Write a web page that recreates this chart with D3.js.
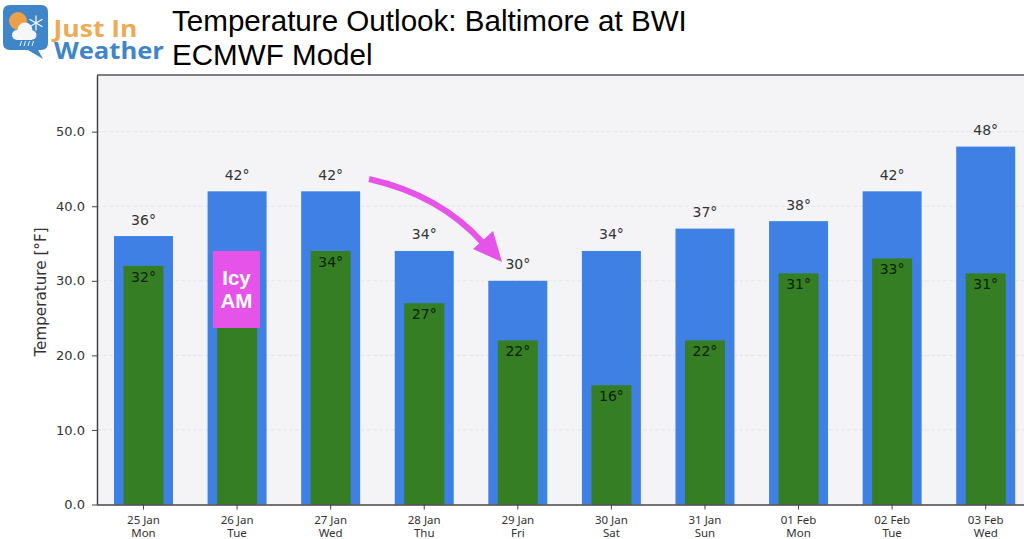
<!DOCTYPE html>
<html>
<head>
<meta charset="utf-8">
<script src="https://cdn.jsdelivr.net/npm/d3@7"></script>
<style>
    html, body { margin: 0; padding: 0; background: #fff; overflow: hidden; }
    text { font-family: "DejaVu Sans", sans-serif; }
</style>
</head>
<body>
<svg id="chart" width="1024" height="539"></svg>
<script>
var dates = ["25 Jan", "26 Jan", "27 Jan", "28 Jan", "29 Jan", "30 Jan", "31 Jan", "01 Feb", "02 Feb", "03 Feb"];
var days = ["Mon", "Tue", "Wed", "Thu", "Fri", "Sat", "Sun", "Mon", "Tue", "Wed"];
var highs = [36, 42, 42, 34, 30, 34, 37, 38, 42, 48];
var lows = [32, 24, 34, 27, 22, 16, 22, 31, 33, 31];
var lowLabels = ["32°", "", "34°", "27°", "22°", "16°", "22°", "31°", "33°", "31°"];
var yTicks = [0, 10, 20, 30, 40, 50];
var titleLines = ["Temperature Outlook: Baltimore at BWI", "ECMWF Model"];

var svg = d3.select("#chart");

var left = 97, right = 1033, top_ = 75, bottom = 504.5;

// one category is 93.58px wide, first bar is centred on 143.5
var x = d3.scaleBand()
    .domain(d3.range(dates.length))
    .range([96.7, 96.7 + 93.58 * dates.length])
    .padding(0);

var y = d3.scaleLinear()
    .domain([0, 57.6])
    .range([bottom, top_]);

var blue_w = 59, green_w = 40;

// plot background
svg.append("rect")
    .attr("x", left).attr("y", top_)
    .attr("width", right - left).attr("height", bottom - top_)
    .attr("fill", "#f4f4f6");

// grid
svg.selectAll(".grid")
    .data(yTicks.slice(1))
    .enter().append("line")
    .attr("x1", left).attr("x2", right)
    .attr("y1", function(d) { return y(d); })
    .attr("y2", function(d) { return y(d); })
    .attr("stroke", "#e6e6e8")
    .attr("stroke-width", 1)
    .attr("stroke-dasharray", "4,2");

function cx(i) { return x(i) + x.bandwidth() / 2; }

svg.selectAll(".high")
    .data(highs)
    .enter().append("rect")
    .attr("x", function(d, i) { return cx(i) - blue_w / 2; })
    .attr("y", function(d) { return y(d); })
    .attr("width", blue_w)
    .attr("height", function(d) { return bottom - y(d); })
    .attr("fill", "#3f80e4");

svg.selectAll(".low")
    .data(lows)
    .enter().append("rect")
    .attr("x", function(d, i) { return cx(i) - green_w / 2; })
    .attr("y", function(d) { return y(d); })
    .attr("width", green_w)
    .attr("height", function(d) { return bottom - y(d); })
    .attr("fill", "#367e24");

svg.selectAll(".high-label")
    .data(highs)
    .enter().append("text")
    .attr("x", function(d, i) { return cx(i); })
    .attr("y", function(d) { return y(d) - 11.5; })
    .attr("text-anchor", "middle")
    .attr("font-size", 14)
    .attr("fill", "#333")
    .text(function(d) { return d + "°"; });

svg.selectAll(".low-label")
    .data(lows)
    .enter().append("text")
    .attr("x", function(d, i) { return cx(i); })
    .attr("y", function(d) { return y(d) + 16; })
    .attr("text-anchor", "middle")
    .attr("font-size", 14)
    .attr("fill", "#0a2208")
    .text(function(d, i) { return lowLabels[i]; });

// axes
var yAxis = d3.axisLeft(y)
    .tickValues(yTicks)
    .tickFormat(d3.format(".1f"))
    .tickSize(5)
    .tickPadding(7)
    .tickSizeOuter(0);

var gy = svg.append("g")
    .attr("transform", "translate(" + left + ",0)")
    .call(yAxis);
gy.selectAll("text").attr("font-size", 13).attr("fill", "#333").style("font-family", "'DejaVu Sans'");
gy.selectAll("line").attr("stroke", "#444");
gy.select(".domain").attr("stroke", "#444").attr("stroke-width", 1.5);

var xAxis = d3.axisBottom(x).tickSize(5).tickSizeOuter(0).tickFormat("");
var gx = svg.append("g")
    .attr("transform", "translate(0," + bottom + ")")
    .call(xAxis);
gx.selectAll("line").attr("stroke", "#444");
gx.select(".domain").attr("stroke", "#444").attr("stroke-width", 1.5);

svg.append("line")
    .attr("x1", left).attr("x2", right)
    .attr("y1", top_).attr("y2", top_)
    .attr("stroke", "#555").attr("stroke-width", 1.5);

svg.selectAll(".date")
    .data(dates)
    .enter().append("text")
    .attr("x", function(d, i) { return cx(i); })
    .attr("y", 524)
    .attr("text-anchor", "middle")
    .attr("font-size", 11.5)
    .attr("fill", "#333")
    .style("font-family", "'Noto Sans'")
    .text(function(d) { return d; });

svg.selectAll(".day")
    .data(days)
    .enter().append("text")
    .attr("x", function(d, i) { return cx(i); })
    .attr("y", 537)
    .attr("text-anchor", "middle")
    .attr("font-size", 11.5)
    .attr("fill", "#333")
    .style("font-family", "'Noto Sans'")
    .text(function(d) { return d; });

svg.append("text")
    .attr("transform", "translate(46,292)rotate(-90)")
    .attr("text-anchor", "middle")
    .attr("font-size", 15.2)
    .attr("fill", "#333")
    .text("Temperature [°F]");

// title
svg.selectAll(".title")
    .data(titleLines)
    .enter().append("text")
    .attr("x", 172)
    .attr("y", function(d, i) { return 31 + i * 34; })
    .attr("font-size", 29.6)
    .attr("fill", "#000")
    .style("font-family", "'Liberation Sans'")
    .text(function(d) { return d; });

// "Icy AM" annotation
svg.append("rect")
    .attr("x", 213).attr("y", 251)
    .attr("width", 47).attr("height", 77)
    .attr("fill", "#e653e8");
svg.append("text")
    .attr("x", 236.5).attr("y", 285)
    .attr("text-anchor", "middle").attr("font-size", 20.5).attr("font-weight", "bold")
    .attr("fill", "#fff").style("font-family", "'Liberation Sans'")
    .text("Icy");
svg.append("text")
    .attr("x", 236.5).attr("y", 308)
    .attr("text-anchor", "middle").attr("font-size", 20.5).attr("font-weight", "bold")
    .attr("fill", "#fff").style("font-family", "'Liberation Sans'")
    .text("AM");

// arrow
svg.append("path")
    .attr("d", "M369,179 Q440,195 483,243")
    .attr("fill", "none")
    .attr("stroke", "#e653e8")
    .attr("stroke-width", 6);
svg.append("path")
    .attr("d", "M473,249 L493,231 L502,262 Z")
    .attr("fill", "#e653e8");

// logo
var logo = svg.append("g");
logo.append("path")
    .attr("d", "M10,5 H41 Q48,5 48,12 V43 Q48,50 41,50 H38 L43,59 L28,50 H10 Q3,50 3,43 V12 Q3,5 10,5 Z")
    .attr("fill", "#3f85c9");
logo.append("circle").attr("cx", 18).attr("cy", 21).attr("r", 9).attr("fill", "#eda04a");

// cloud
logo.append("circle").attr("cx", 25).attr("cy", 30).attr("r", 7.5).attr("fill", "#f4f6f8");
logo.append("circle").attr("cx", 17).attr("cy", 35).attr("r", 5).attr("fill", "#f4f6f8");
logo.append("circle").attr("cx", 32).attr("cy", 35).attr("r", 4.5).attr("fill", "#f4f6f8");
logo.append("rect").attr("x", 17).attr("y", 34).attr("width", 15).attr("height", 6).attr("fill", "#f4f6f8");

// rain streaks
logo.selectAll(".rain")
    .data([20, 24, 28, 32])
    .enter().append("line")
    .attr("x1", function(d) { return d + 1.5; }).attr("x2", function(d) { return d; })
    .attr("y1", 41).attr("y2", 46)
    .attr("stroke", "#f4f6f8").attr("stroke-width", 1);

// snowflake
logo.selectAll(".flake")
    .data([0, 60, 120])
    .enter().append("line")
    .attr("x1", 0).attr("x2", 0)
    .attr("y1", -7.5).attr("y2", 7.5)
    .attr("transform", function(d) { return "translate(36,23)rotate(" + d + ")"; })
    .attr("stroke", "#f4f6f8").attr("stroke-width", 1.3);

logo.append("text")
    .attr("x", 53.5).attr("y", 37)
    .attr("font-size", 24).attr("font-weight", 700).attr("fill", "#eeaa55")
    .attr("textLength", 84).attr("lengthAdjust", "spacingAndGlyphs")
    .style("font-family", "'Open Sans'")
    .text("Just In");
logo.append("text")
    .attr("x", 54).attr("y", 59)
    .attr("font-size", 24).attr("font-weight", 700).attr("fill", "#3f85c9")
    .attr("textLength", 110).attr("lengthAdjust", "spacingAndGlyphs")
    .style("font-family", "'Open Sans'")
    .text("Weather");
</script>
</body>
</html>
